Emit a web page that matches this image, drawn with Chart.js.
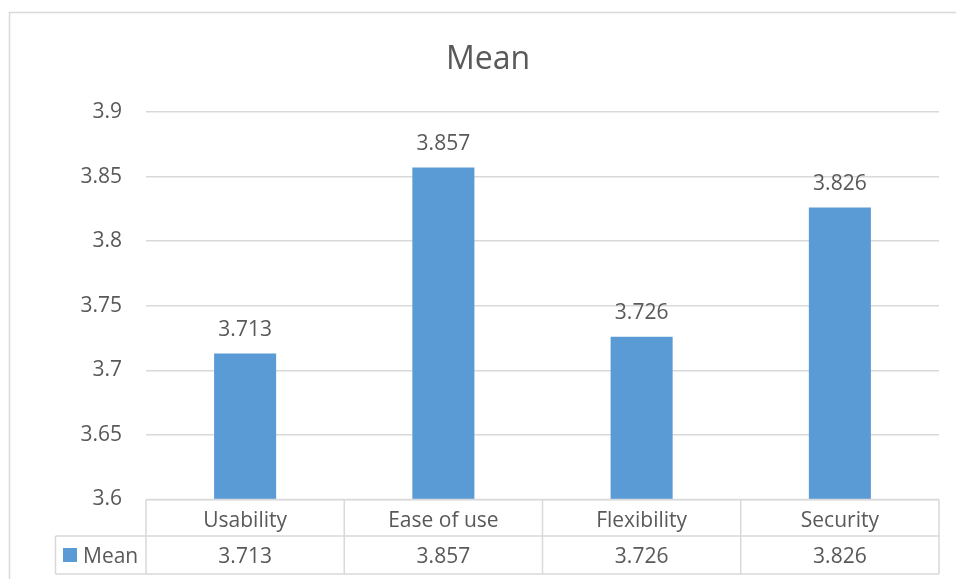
<!DOCTYPE html>
<html>
<head>
<meta charset="utf-8">
<title>Mean</title>
<script src="https://cdn.jsdelivr.net/npm/chart.js@4.4.1/dist/chart.umd.min.js"></script>
<style>
  html, body { margin: 0; padding: 0; background: #ffffff; }
  canvas { display: block; }
</style>
</head>
<body>
<canvas id="chart" width="956" height="579"></canvas>
<script>
// Survey scores per dimension
const categories = ['Usability', 'Ease of use', 'Flexibility', 'Security'];
const meanValues = [3.713, 3.857, 3.726, 3.826];
const seriesName = 'Mean';
const chartTitle = 'Mean';
const yMin = 3.6;
const yMax = 3.9;
const yStep = 0.05;

const TEXT = '#595959';
const LINE = '#d9d9d9';
const BAR = '#5b9bd5';
const FONT = '"Open Sans", "Liberation Sans", sans-serif';

const fmt = v => String(parseFloat(Number(v).toFixed(3)));

// Outer frame and title
const framePlugin = {
  id: 'frame',
  beforeDraw(chart) {
    const ctx = chart.ctx;
    ctx.save();
    ctx.fillStyle = '#ffffff';
    ctx.fillRect(0, 0, chart.width, chart.height);
    ctx.strokeStyle = LINE;
    ctx.lineWidth = 1.5;
    ctx.beginPath();
    ctx.moveTo(9.5, chart.height);
    ctx.lineTo(9.5, 12.5);
    ctx.lineTo(chart.width, 12.5);
    ctx.stroke();
    ctx.fillStyle = TEXT;
    ctx.font = '32px ' + FONT;
    ctx.textAlign = 'center';
    ctx.textBaseline = 'alphabetic';
    ctx.fillText(chartTitle, 488, 69);
    ctx.restore();
  }
};

// Value labels above each bar
const valueLabels = {
  id: 'valueLabels',
  afterDatasetsDraw(chart) {
    const ctx = chart.ctx;
    const meta = chart.getDatasetMeta(0);
    ctx.save();
    ctx.fillStyle = TEXT;
    ctx.font = '21px ' + FONT;
    ctx.textAlign = 'center';
    ctx.textBaseline = 'alphabetic';
    meta.data.forEach((bar, i) => {
      ctx.fillText(fmt(chart.data.datasets[0].data[i]), bar.x, bar.y - 18);
    });
    ctx.restore();
  }
};

// Data table under the plot: category row and series row with legend key
const dataTable = {
  id: 'dataTable',
  afterDraw(chart) {
    const ctx = chart.ctx;
    const xs = chart.scales.x;
    const area = chart.chartArea;
    const top = area.bottom;
    const mid = top + 36.5;
    const bot = top + 74.5;
    const keyLeft = 55.5;
    const n = categories.length;
    const half = (xs.getPixelForValue(1) - xs.getPixelForValue(0)) / 2;
    const edges = [];
    for (let i = 0; i < n; i++) edges.push(xs.getPixelForValue(i) - half);
    edges.push(xs.getPixelForValue(n - 1) + half);

    ctx.save();
    ctx.strokeStyle = LINE;
    ctx.lineWidth = 1.5;
    ctx.beginPath();
    ctx.moveTo(edges[0], top); ctx.lineTo(edges[n], top);
    ctx.moveTo(keyLeft, mid); ctx.lineTo(edges[n], mid);
    ctx.moveTo(keyLeft, bot); ctx.lineTo(edges[n], bot);
    ctx.moveTo(keyLeft, mid); ctx.lineTo(keyLeft, bot);
    edges.forEach(x => { ctx.moveTo(x, top); ctx.lineTo(x, bot); });
    ctx.stroke();

    ctx.fillStyle = TEXT;
    ctx.font = '21px ' + FONT;
    ctx.textAlign = 'center';
    ctx.textBaseline = 'alphabetic';
    categories.forEach((c, i) => {
      const cx = xs.getPixelForValue(i);
      ctx.fillText(c, cx, top + 27.5);
      ctx.fillText(fmt(meanValues[i]), cx, top + 63.5);
    });

    ctx.fillStyle = BAR;
    ctx.fillRect(63, top + 48.5, 14, 14);
    ctx.fillStyle = TEXT;
    ctx.textAlign = 'left';
    ctx.fillText(seriesName, 83, top + 63.5);
    ctx.restore();
  }
};

function build() {
  new Chart(document.getElementById('chart'), {
    type: 'bar',
    data: {
      labels: categories,
      datasets: [{
        label: seriesName,
        data: meanValues,
        backgroundColor: BAR,
        borderWidth: 0,
        categoryPercentage: 1,
        barPercentage: 0.313
      }]
    },
    options: {
      responsive: false,
      animation: false,
      devicePixelRatio: 1,
      layout: { padding: { left: 0, top: 112, right: 17, bottom: 79.5 } },
      plugins: {
        legend: { display: false },
        title: { display: false },
        tooltip: { enabled: false }
      },
      scales: {
        x: {
          display: false,
          grid: { display: false }
        },
        y: {
          min: yMin,
          max: yMax,
          afterFit(scale) { scale.width = 146; },
          border: { display: false },
          grid: { color: LINE, lineWidth: 1.5, drawTicks: false },
          ticks: {
            stepSize: yStep,
            padding: 24,
            color: TEXT,
            font: { family: FONT, size: 21 },
            callback: v => fmt(v)
          }
        }
      }
    },
    plugins: [framePlugin, valueLabels, dataTable]
  });
}

if (document.fonts && document.fonts.load) {
  Promise.all([
    document.fonts.load('21px "Open Sans"'),
    document.fonts.load('32px "Open Sans"')
  ]).then(build, build);
} else {
  build();
}
</script>
</body>
</html>
